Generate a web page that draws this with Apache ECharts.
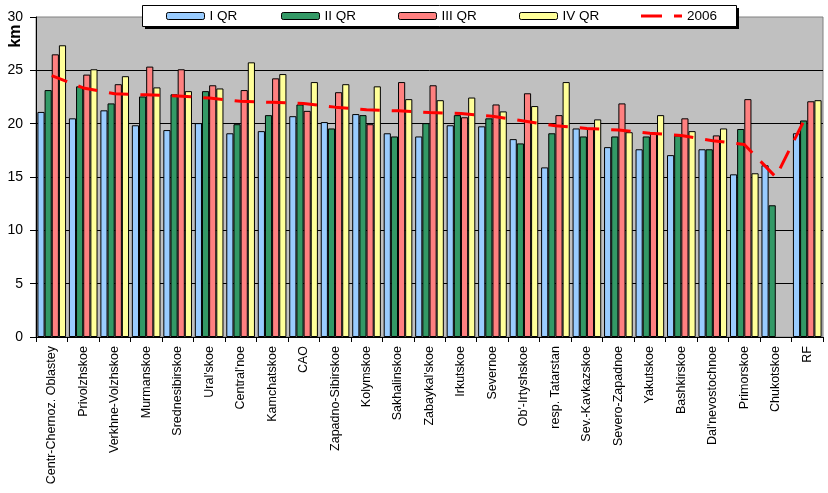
<!DOCTYPE html>
<html>
<head>
<meta charset="utf-8">
<script src="https://cdn.jsdelivr.net/npm/echarts@6/dist/echarts.min.js"></script>
<style>html,body{margin:0;padding:0;background:#fff}#c{width:828px;height:493px}</style>
</head>
<body>
<div id="c"></div>
<script>
var categories = ['Centr-Chernoz. Oblastey','Privolzhskoe','Verkhne-Volzhskoe','Murmanskoe','Srednesibirskoe',"Ural'skoe","Central'noe",'Kamchatskoe','CAO','Zapadno-Sibirskoe','Kolymskoe','Sakhalinskoe',"Zabaykal'skoe",'Irkutskoe','Severnoe',"Ob'-Irtyshskoe",'resp. Tatarstan','Sev.-Kavkazskoe','Severo-Zapadnoe','Yakutskoe','Bashkirskoe',"Dal'nevostochnoe",'Primorskoe','Chukotskoe','RF'];
var q1 = [21.1,20.5,21.25,19.85,19.4,20.05,19.1,19.3,20.7,20.15,20.9,19.1,18.8,19.85,19.75,18.55,15.9,19.55,17.8,17.6,17.05,17.6,15.25,16.1,19.1];
var q2 = [23.15,23.5,21.9,22.55,22.75,23.05,19.95,20.8,21.8,19.55,20.8,18.8,20.05,20.8,20.5,18.15,19.1,18.8,18.8,18.8,18.9,17.6,19.5,12.35,20.3];
var q3 = [26.5,24.6,23.7,25.35,25.1,23.6,23.15,24.25,21.2,22.95,19.95,23.9,23.6,20.6,21.8,22.85,20.8,19.6,21.9,19.1,20.5,18.9,22.3,null,22.1];
var q4 = [27.35,25.1,24.45,23.4,23.05,23.3,25.75,24.65,23.9,23.7,23.5,22.3,22.2,22.45,21.15,21.65,23.9,20.4,19.2,20.8,19.3,19.55,15.35,null,22.2];
var y2006 = [24.5,23.35,22.8,22.7,22.6,22.4,22.1,22.0,21.9,21.55,21.3,21.2,21.05,20.95,20.7,20.25,19.8,19.55,19.4,19.1,18.9,18.4,18.05,15.0,20.9];
var seriesNames = ['I QR','II QR','III QR','IV QR','2006'];
var colors = ['#99ccff','#339966','#ff8080','#ffff99','#ff0000'];

var FONT = "'Liberation Sans', Arial, sans-serif";
var chart = echarts.init(document.getElementById('c'), null, {renderer:'canvas'});

function barSeries(i, data){
  return {
    name: seriesNames[i], type:'bar', data:data,
    barGap:'0%', barCategoryGap:'9%',
    itemStyle:{color:colors[i], borderColor:'#000', borderWidth:1},
    emphasis:{disabled:true}, animation:false
  };
}
var legendLefts = [166, 281, 398, 519, 641];
var legends = [];
for (var i=0;i<4;i++){
  legends.push({
    data:[seriesNames[i]], left:legendLefts[i], top:9, padding:0, z:20,
    itemWidth:38, itemHeight:7,
    itemStyle:{borderColor:'#000', borderWidth:1},
    textStyle:{fontFamily:FONT, fontSize:13.5, color:'#000', lineHeight:13},
    selectedMode:false
  });
}
legends.push({
  data:[{name:'2006', icon:'path://M0,0H21V3H0ZM33,0H41V3H33Z'}],
  left:legendLefts[4], top:9, padding:0, z:20,
  itemWidth:41, itemHeight:3,
  itemStyle:{color:'#ff0000', borderWidth:0},
  textStyle:{fontFamily:FONT, fontSize:13.5, color:'#000', lineHeight:13},
  selectedMode:false
});

chart.setOption({
  animation:false,
  backgroundColor:'#fff',
  textStyle:{fontFamily:FONT},
  grid:{left:36, right:5, top:17, bottom:156, show:true, backgroundColor:'#c0c0c0', borderColor:'#808080', borderWidth:1},
  legend: legends,
  graphic:[
    {type:'rect', z:10, shape:{x:145, y:8, width:594, height:21}, style:{fill:'#000'}},
    {type:'rect', z:11, shape:{x:142.5, y:5.5, width:594, height:21}, style:{fill:'#fff', stroke:'#000', lineWidth:1}},
    {type:'text', z:11, x:16, y:36, rotation:Math.PI/2, style:{text:'km', font:'bold 16px ' + FONT, fill:'#000', align:'center', verticalAlign:'middle'}}
  ],
  xAxis:{
    type:'category', data:categories,
    axisLine:{lineStyle:{color:'#000', width:1}},
    axisTick:{show:true, length:5, lineStyle:{color:'#000'}},
    axisLabel:{interval:0, rotate:90, margin:9, fontFamily:FONT, fontSize:12.5, color:'#000'}
  },
  yAxis:{
    type:'value', min:0, max:30, interval:5,
    axisLine:{show:true, lineStyle:{color:'#000', width:1}},
    axisTick:{show:true, length:6, lineStyle:{color:'#000'}},
    axisLabel:{margin:13, fontFamily:FONT, fontSize:14, color:'#000'},
    splitLine:{show:true, showMaxLine:false, lineStyle:{color:'#000', width:1}}
  },
  series:[
    barSeries(0,q1), barSeries(1,q2), barSeries(2,q3), barSeries(3,q4),
    {name:'2006', type:'line', data:y2006, symbol:'none', z:5,
     lineStyle:{color:'#ff0000', width:3, type:[19.5,12], dashOffset:3},
     itemStyle:{color:'#ff0000'}, emphasis:{disabled:true}}
  ]
});
</script>
</body>
</html>
